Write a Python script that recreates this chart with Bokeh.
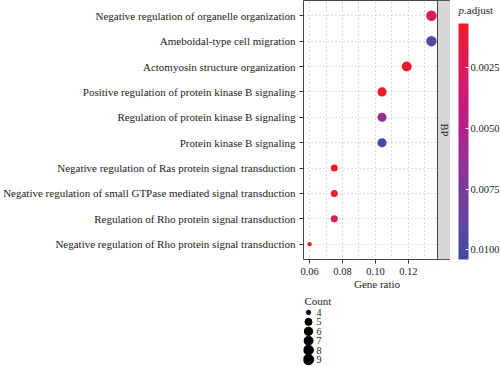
import numpy as np
from bokeh.plotting import figure
from bokeh.models import (FactorRange, Range1d, FixedTicker, NumeralTickFormatter,
                          LinearColorMapper, ColorBar, BoxAnnotation, Label, ColumnDataSource)
from bokeh.layouts import column, row
from bokeh.embed import file_html
from bokeh.resources import INLINE
from bokeh.core.properties import value

# ---------------- data ----------------
terms = [
    "Negative regulation of organelle organization",
    "Ameboidal-type cell migration",
    "Actomyosin structure organization",
    "Positive regulation of protein kinase B signaling",
    "Regulation of protein kinase B signaling",
    "Protein kinase B signaling",
    "Negative regulation of Ras protein signal transduction",
    "Negative regulation of small GTPase mediated signal transduction",
    "Regulation of Rho protein signal transduction",
    "Negative regulation of Rho protein signal transduction",
]
gene_ratio = [0.134, 0.134, 0.119, 0.104, 0.104, 0.104, 0.075, 0.075, 0.075, 0.060]
counts = [9, 9, 8, 7, 7, 7, 5, 5, 5, 4]
p_adjust = [0.0028, 0.0095, 0.0008, 0.0008, 0.0063, 0.0102, 0.0008, 0.0009, 0.0027, 0.0007]
ontology = "BP"
x_ticks = [0.06, 0.08, 0.10, 0.12]
x_minor = [0.07, 0.09, 0.11, 0.13]
cbar_ticks = [0.0025, 0.0050, 0.0075, 0.0100]
p_limits = [0.00067, 0.0104]
legend_counts = [4, 5, 6, 7, 8, 9]
cbar_title = ["p", ".adjust"]

# ---------------- style ----------------
FONT = "Liberation Serif"
TXT = "#222222"
# colour anchors of the gradient (fraction from low p to high p)
GRAD_POS = [0.0, 0.188, 0.445, 0.702, 1.0]
GRAD_COL = ["#ee1c28", "#dd1b5c", "#b41f8c", "#7a3a9d", "#3d4ca2"]
PANEL_W, STRIP_W = 134, 13
LEFT, BOTTOM = 303, 35
MAIN_W, MAIN_H, CB_W, LEG_H = 450, 294, 50, 72
FRAME_H = MAIN_H - BOTTOM

M = np.array([[0.4124564, 0.3575761, 0.1804375],
              [0.2126729, 0.7151522, 0.0721750],
              [0.0193339, 0.1191920, 0.9503041]])
WHITE = np.array([0.95047, 1.0, 1.08883])


def to_lab(h):
    rgb = np.array([int(h[i:i + 2], 16) for i in (1, 3, 5)]) / 255.0
    lin = np.where(rgb <= 0.04045, rgb / 12.92, ((rgb + 0.055) / 1.055) ** 2.4)
    xyz = M @ lin / WHITE
    f = np.where(xyz > 0.008856, np.cbrt(xyz), 7.787 * xyz + 16 / 116)
    return np.array([116 * f[1] - 16, 500 * (f[0] - f[1]), 200 * (f[1] - f[2])])


def from_lab(lab):
    L, a, b = lab
    fy = (L + 16) / 116
    f = np.array([fy + a / 500, fy, fy - b / 200])
    xyz = np.where(f ** 3 > 0.008856, f ** 3, (f - 16 / 116) / 7.787) * WHITE
    lin = np.clip(np.linalg.inv(M) @ xyz, 0, 1)
    rgb = np.where(lin <= 0.0031308, 12.92 * lin, 1.055 * lin ** (1 / 2.4) - 0.055)
    return "#%02x%02x%02x" % tuple(int(round(v * 255)) for v in np.clip(rgb, 0, 1))


labs = np.array([to_lab(c) for c in GRAD_COL])
ts = np.linspace(0, 1, 256)
grad = [from_lab(np.array([np.interp(t, GRAD_POS, labs[:, k]) for k in range(3)])) for t in ts]
palette = grad[::-1]  # index 0 = high p (blue) ... index 255 = low p (red)
mapper = LinearColorMapper(palette=palette, low=p_limits[1], high=p_limits[0])

cmin, cmax = min(legend_counts), max(legend_counts)


def size_of(c, r0=4.3, r1=10.5):
    return r0 + (r1 - r0) * np.sqrt((c - cmin) / (cmax - cmin))


# ---------------- main panel ----------------
lo, hi = min(gene_ratio), max(gene_ratio)
pad = 0.05 * (hi - lo)
x0, x1 = lo - pad, hi + pad
x_end = x1 + (x1 - x0) * STRIP_W / PANEL_W

p = figure(width=MAIN_W, height=MAIN_H,
           y_range=FactorRange(factors=terms[::-1], range_padding=0.1, range_padding_units="absolute"),
           x_range=Range1d(x0, x_end),
           output_backend="svg", toolbar_location=None,
           min_border_left=LEFT, min_border_right=0, min_border_top=0, min_border_bottom=BOTTOM)

src = ColumnDataSource(dict(term=terms, ratio=gene_ratio, count=counts, p=p_adjust,
                            size=[size_of(c) for c in counts]))
p.scatter("ratio", "term", size="size", source=src,
          fill_color={"field": "p", "transform": mapper}, line_color=None)

ticker = FixedTicker(ticks=x_ticks, minor_ticks=x_minor)
p.xaxis.ticker = ticker
p.xaxis.formatter = NumeralTickFormatter(format="0.00")
p.xaxis.axis_label = "Gene ratio"
p.xgrid.ticker = ticker

for ax in (p.xaxis, p.yaxis):
    ax.axis_line_color = None
    ax.major_tick_in = 0
    ax.major_tick_out = 4
    ax.major_tick_line_color = "#333333"
    ax.minor_tick_line_color = None
    ax.major_label_text_font = FONT
    ax.major_label_text_color = TXT
    ax.axis_label_text_font = FONT
    ax.axis_label_text_font_style = "normal"
    ax.axis_label_text_color = TXT
p.yaxis.major_label_text_font_size = "11px"
p.yaxis.major_label_standoff = 4
p.xaxis.major_label_text_font_size = "10.5px"
p.xaxis.major_label_standoff = 4
p.xaxis.axis_label_text_font_size = "11px"
p.xaxis.axis_label_standoff = 0

for g in (p.xgrid, p.ygrid):
    g.grid_line_color = "#b8b8b8"
    g.grid_line_dash = "1 3"
    g.grid_line_width = 1
p.xgrid.minor_grid_line_color = "#b8b8b8"
p.xgrid.minor_grid_line_dash = "1 3"

p.outline_line_color = "#444444"
p.outline_line_width = 1
p.outline_line_alpha = 1

strip = BoxAnnotation(left=x1, fill_color="#d6d6d6", fill_alpha=1,
                      line_color="#444444", line_alpha=1, line_width=1)
p.add_layout(strip)
p.add_layout(Label(x=(x1 + x_end) / 2, y=len(terms) / 2, text=ontology, angle=-np.pi / 2,
                   text_align="center", text_baseline="middle", text_font=FONT,
                   text_font_size="10.5px", text_color=TXT))

# ---------------- colour bar (own canvas) ----------------
cbf = figure(width=CB_W, height=MAIN_H, x_range=Range1d(0, CB_W), y_range=Range1d(FRAME_H, 0),
             output_backend="svg", toolbar_location=None,
             x_axis_location=None, y_axis_location=None,
             min_border_left=0, min_border_right=0, min_border_top=0, min_border_bottom=BOTTOM,
             outline_line_color=None)
cbf.grid.visible = False
cb = ColorBar(color_mapper=mapper, ticker=FixedTicker(ticks=cbar_ticks),
              formatter=NumeralTickFormatter(format="0.0000"),
              width=10, height=236, location=(8, 0), padding=0, margin=0,
              label_standoff=2, major_tick_in=3, major_tick_line_color="white",
              major_label_text_font=FONT, major_label_text_font_size="10.5px",
              major_label_text_color=TXT, bar_line_color=None, title=None,
              background_fill_alpha=0)
cbf.add_layout(cb)
cbf.text(x=[8], y=[9], text=[cbar_title[0]], text_baseline="middle", text_font=value(FONT),
         text_font_style="italic", text_font_size="11px", text_color=TXT)
cbf.text(x=[13.6], y=[9], text=[cbar_title[1]], text_baseline="middle", text_font=value(FONT),
         text_font_size="11px", text_color=TXT)

# ---------------- size legend ----------------
FRAME_W = PANEL_W + STRIP_W
lg = figure(width=MAIN_W + CB_W, height=LEG_H, x_range=Range1d(0, FRAME_W), y_range=Range1d(LEG_H, 0),
            output_backend="svg", toolbar_location=None,
            x_axis_location=None, y_axis_location=None,
            min_border_left=LEFT, min_border_right=CB_W, min_border_top=0, min_border_bottom=0,
            outline_line_color=None)
lg.grid.visible = False
rows = [18 + 9.4 * i for i in range(len(legend_counts))]
lsrc = ColumnDataSource(dict(y=rows, size=[size_of(c) for c in legend_counts],
                             lab=[str(c) for c in legend_counts]))
lg.scatter(x=5, y="y", size="size", source=lsrc, color="black")
lg.text(x=13, y="y", text="lab", source=lsrc, text_baseline="middle",
        text_font=value(FONT), text_font_size="10px", text_color=TXT)
lg.text(x=[1], y=[6.5], text=["Count"], text_baseline="middle",
        text_font=value(FONT), text_font_size="11px", text_color=TXT)

layout = column(row(p, cbf), lg)
open("out.html", "w").write(file_html(layout, INLINE))
